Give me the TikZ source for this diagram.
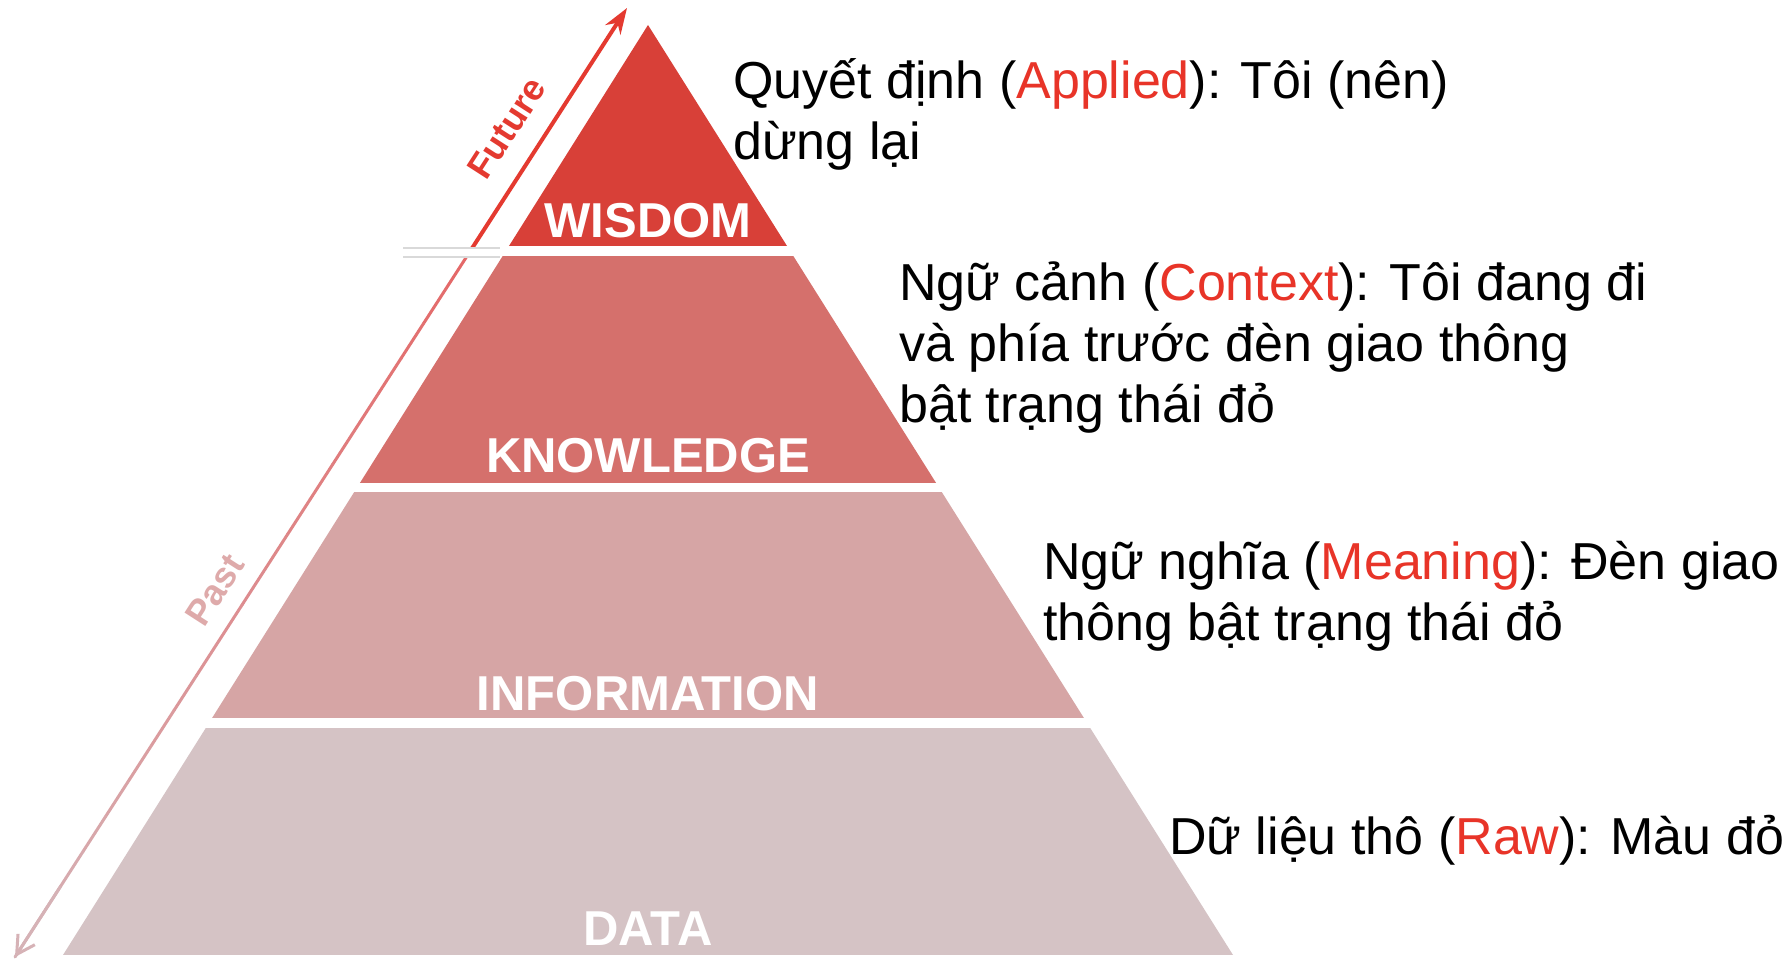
\documentclass[tikz,border=0pt]{standalone}
\usepackage{fontspec}
\setmainfont{Liberation Sans}
\usetikzlibrary{calc,arrows.meta}
\definecolor{cwis}{RGB}{216,64,56}
\definecolor{ckno}{RGB}{213,112,108}
\definecolor{cinf}{RGB}{214,165,165}
\definecolor{cdat}{RGB}{213,195,197}
\definecolor{redtxt}{RGB}{232,52,40}
\definecolor{futc}{RGB}{228,58,48}
\definecolor{pasttop}{RGB}{228,105,105}
\definecolor{pastbot}{RGB}{214,178,182}
\definecolor{pastlbl}{RGB}{222,170,170}
\begin{document}
\begin{tikzpicture}[x=1pt,y=-1pt,
  lvl/.style={text=white, font=\fontsize{49}{49}\selectfont\bfseries, inner sep=0pt, anchor=base},
  desc/.style={font=\fontsize{52}{61}\selectfont, align=left, anchor=base west, inner sep=0pt},
  tlbl/.style={font=\fontsize{36}{36}\selectfont\bfseries, rotate=57.2, inner sep=0pt}]
\useasboundingbox (0,0) rectangle (1783,960);
\fill[white] (0,0) rectangle (1783,960);
% pyramid
\coordinate (apex) at (648,25);
\coordinate (bl) at (63,955);
\coordinate (br) at (1233,955);
\begin{scope}
\clip (apex) -- (br) -- (bl) -- cycle;
\fill[cwis] (0,0) rectangle (1783,246);
\fill[ckno] (0,256) rectangle (1783,483);
\fill[cinf] (0,492) rectangle (1783,718);
\fill[cdat] (0,728) rectangle (1783,955);
\end{scope}
% time arrow
\coordinate (ftop) at (627,8);
\coordinate (pbot) at (15,957);
\coordinate (mid) at ($(ftop)!0.258!(pbot)$);
\draw[futc, line width=4pt, -{Stealth[length=26pt,width=18pt]}] (mid) -- (ftop);
\foreach \i in {0,...,19}{
  \pgfmathsetmacro\p{100*\i/19}
  \draw[line width=3pt, line cap=round, pastbot!\p!pasttop] ($(mid)!\i/20!(pbot)$) -- ($(mid)!{(\i+1)/20}!(pbot)$);
}
\draw[pastbot, line width=3pt, -{Straight Barb[length=18pt,width=20pt]}] ($(mid)!0.9!(pbot)$) -- (pbot);
% gap extension
\fill[white] (403,248) rectangle (500,257);
\draw[gray!30, line width=1.2pt] (403,248) -- (500,248) (403,257) -- (500,257);
% arrow labels
\node[tlbl, text=futc] (fut) at (507,128) {Future};
\node[tlbl, text=pastlbl] (past) at (215,590) {Past};
% level labels
\node[lvl] (wis) at (648,237) {WISDOM};
\node[lvl] (kno) at (648,472) {KNOWLEDGE};
\node[lvl] (inf) at (648,710) {INFORMATION};
\node[lvl] (dat) at (648,945) {DATA};
% descriptions (anchor = baseline of last line)
\node[desc] (t1) at (733,160) {Quyết định (\textcolor{redtxt}{Applied}): Tôi (nên)\\dừng lại};
\node[desc] (t2) at (899,422) {Ngữ cảnh (\textcolor{redtxt}{Context}): Tôi đang đi\\và phía trước đèn giao thông\\bật trạng thái đỏ};
\node[desc] (t3) at (1043,640) {Ngữ nghĩa (\textcolor{redtxt}{Meaning}): Đèn giao\\thông bật trạng thái đỏ};
\node[desc] (t4) at (1169,854) {Dữ liệu thô (\textcolor{redtxt}{Raw}): Màu đỏ};
\end{tikzpicture}
\end{document}
